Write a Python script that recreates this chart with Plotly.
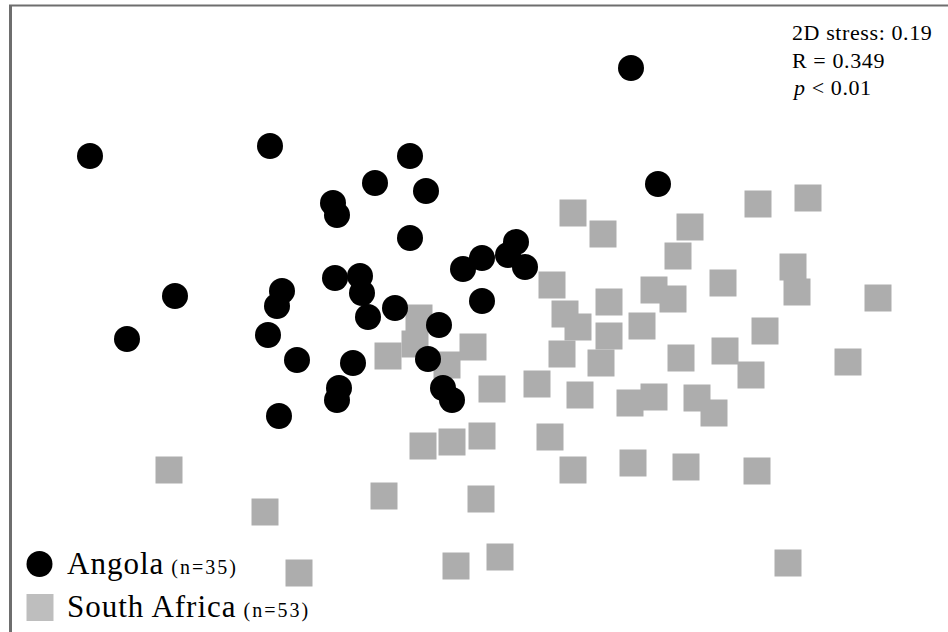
import plotly.graph_objects as go

# NMDS ordination scores (arbitrary units)
angola_x = [1.57, -3.84, -2.04, -0.64, -0.99, -0.48, 1.84, -1.41, -1.37, -0.64,
            -0.11, 0.08, 0.34, 0.42, 0.51, -1.39, -1.14, -1.12, -1.92, -1.97,
            -2.99, 0.08, -0.79, -1.06, -0.35, -3.47, -2.06, -1.77, -1.21, -0.46,
            -1.35, -1.37, -0.31, -0.22, -1.95]
angola_y = [2.48, 1.60, 1.70, 1.60, 1.33, 1.25, 1.32, 1.13, 1.01, 0.78,
            0.47, 0.58, 0.61, 0.74, 0.49, 0.38, 0.40, 0.23, 0.25, 0.10,
            0.20, 0.15, 0.08, -0.01, -0.09, -0.23, -0.19, -0.44, -0.47, -0.43,
            -0.72, -0.84, -0.72, -0.84, -1.00]

sa_x = [0.99, 1.29, 2.16, 2.84, 3.34, 2.04, 3.19, 0.78, 1.35, 1.80,
        1.99, 2.49, 3.23, 4.04, -0.55, 0.91, 1.04, 1.35, 1.68, 2.91,
        -0.59, -0.86, -0.01, -0.27, 0.88, 1.27, 2.07, 2.51, 2.77, 3.74,
        0.18, 0.63, 1.06, 1.56, 1.80, 2.23, 2.40, -0.51, -0.22, 0.08,
        0.76, 0.99, 1.59, 2.12, 2.83, -3.05, -2.09, -0.90, 0.07, -1.75,
        -0.18, 0.26, 3.14]
sa_y = [1.03, 0.82, 0.89, 1.12, 1.18, 0.60, 0.49, 0.31, 0.14, 0.26,
        0.17, 0.33, 0.24, 0.18, -0.02, 0.02, -0.11, -0.20, -0.10, -0.15,
        -0.28, -0.40, -0.31, -0.49, -0.38, -0.47, -0.42, -0.35, -0.59, -0.46,
        -0.73, -0.68, -0.79, -0.87, -0.81, -0.82, -0.97, -1.30, -1.26, -1.20,
        -1.21, -1.54, -1.47, -1.51, -1.55, -1.54, -1.96, -1.80, -1.83, -2.57,
        -2.50, -2.41, -2.47]

groups = ["Angola", "South Africa"]
counts = [35, 53]
stats_lines = ["2D stress: 0.19", "R = 0.349", "<i>p</i> &lt; 0.01"]

W, H = 948, 632
SERIF = "Liberation Serif, Times New Roman, serif"

fig = go.Figure()
fig.add_trace(go.Scatter(x=sa_x, y=sa_y, mode="markers", name=groups[1],
                         marker=dict(symbol="square", size=27, color="#ADADAD",
                                     line=dict(width=0)),
                         showlegend=False, hoverinfo="skip"))
fig.add_trace(go.Scatter(x=angola_x, y=angola_y, mode="markers", name=groups[0],
                         marker=dict(symbol="circle", size=26, color="#000000",
                                     line=dict(width=0)),
                         showlegend=False, hoverinfo="skip"))


def px(x):
    return x / W


def py(y):
    return 1 - y / H


shapes = [
    dict(type="line", xref="paper", yref="paper", x0=px(9), x1=px(W), y0=py(5.5), y1=py(5.5),
         line=dict(color="#6E6E6E", width=2)),
    dict(type="line", xref="paper", yref="paper", x0=px(10.5), x1=px(10.5), y0=py(5), y1=py(H),
         line=dict(color="#6E6E6E", width=3)),
    dict(type="circle", xref="paper", yref="paper", x0=px(26.5), x1=px(52.5), y0=py(551), y1=py(577),
         fillcolor="#000000", line=dict(width=0)),
    dict(type="rect", xref="paper", yref="paper", x0=px(26.5), x1=px(53.5), y0=py(594), y1=py(621),
         fillcolor="#BEBEBE", line=dict(width=0)),
]

annotations = []
for i, (txt, yc) in enumerate(zip(stats_lines, [32, 60, 88])):
    annotations.append(dict(
        xref="paper", yref="paper", x=px(790), y=py(yc), xanchor="left", yanchor="middle",
        text=f"<span style='letter-spacing:0.6px'>{txt}</span>", showarrow=False,
        font=dict(family=SERIF, size=22, color="#000000")))

for g, n, yc in zip(groups, counts, [563, 606]):
    annotations.append(dict(
        xref="paper", yref="paper", x=px(65), y=py(yc), xanchor="left", yanchor="middle",
        text=(f"<span style='letter-spacing:1px'>{g}</span>"
              f"<span style='font-size:20px;letter-spacing:2px'> (n={n})</span>"),
        showarrow=False, font=dict(family=SERIF, size=31, color="#000000")))

fig.update_layout(
    width=W, height=H, margin=dict(l=0, r=0, t=0, b=0),
    paper_bgcolor="white", plot_bgcolor="white",
    xaxis=dict(range=[-4.74, 4.74], visible=False, fixedrange=True),
    yaxis=dict(range=[-3.16, 3.16], visible=False, fixedrange=True),
    shapes=shapes, annotations=annotations, showlegend=False,
)

fig.write_html("out.html")
